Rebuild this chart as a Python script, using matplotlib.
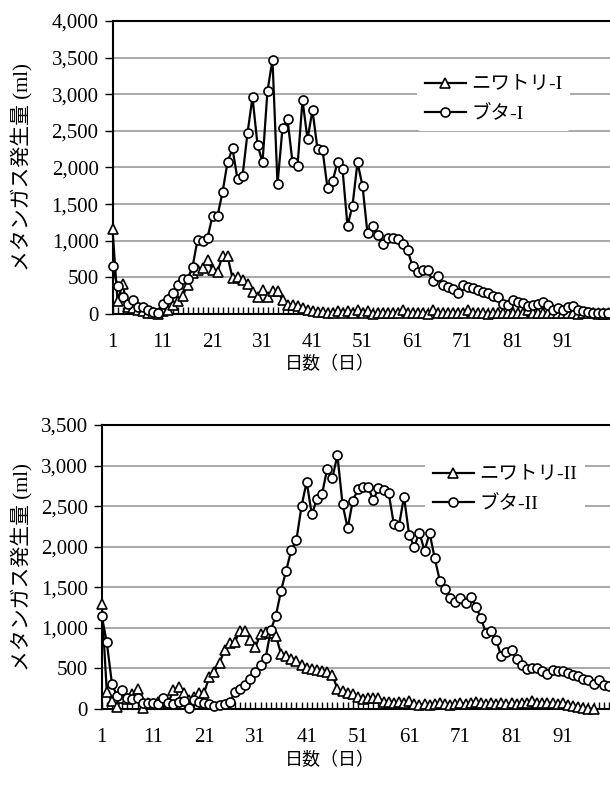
import numpy as np
import matplotlib
matplotlib.use("Agg")
import matplotlib.pyplot as plt
from matplotlib.ticker import FuncFormatter, FixedLocator

plt.rcParams['font.family'] = ['Liberation Serif', 'Noto Sans CJK JP']

days = np.arange(1, 101)
xtick_labels = [1, 11, 21, 31, 41, 51, 61, 71, 81, 91]

chicken_1 = [1160, 180, 410, 100, 80, 60, 36, 20, 10, 0,
             36, 60, 127, 173, 240, 400, 560, 605, 630, 740,
             605, 580, 790, 790, 490, 505, 470, 414, 296, 228,
             332, 228, 310, 310, 196, 127, 127, 105, 82, 60,
             40, 30, 25, 20, 15, 40, 10, 45, 10, 50,
             15, 45, 5, 10, 10, 15, 10, 15, 50, 15,
             10, 10, 10, 5, 50, 15, 15, 10, 15, 10,
             10, 50, 15, 10, 10, 5, 10, 15, 10, 10,
             15, 10, 10, 50, 15, 10, 10, 10, 15, 10,
             15, 10, 10, 5, 10, 10, 10, 5, 5, 5]
pig_1 = [650, 380, 230, 130, 190, 100, 90, 60, 30, 20,
         130, 200, 290, 390, 480, 480, 640, 1010, 1000, 1040,
         1340, 1340, 1660, 2070, 2260, 1840, 1880, 2470, 2960, 2310,
         2070, 3050, 3470, 1770, 2540, 2660, 2070, 2020, 2920, 2390,
         2780, 2250, 2240, 1720, 1810, 2070, 1980, 1200, 1480, 2070,
         1750, 1100, 1200, 1080, 960, 1040, 1040, 1020, 950, 870,
         660, 570, 600, 600, 455, 520, 400, 370, 340, 285,
         400, 370, 355, 323, 300, 287, 250, 228, 140, 127,
         195, 160, 150, 115, 127, 140, 160, 127, 60, 80,
         60, 95, 115, 60, 36, 23, 20, 15, 15, 15]

chicken_2 = [1300, 210, 100, 30, 130, 120, 180, 250, 10, 80,
             60, 90, 60, 80, 230, 270, 200, 110, 150, 200,
             200, 400, 460, 570, 730, 810, 830, 960, 960, 850,
             760, 930, 950, 940, 900, 680, 650, 620, 590, 540,
             500, 490, 480, 470, 460, 420, 250, 220, 200, 180,
             150, 120, 140, 130, 140, 90, 90, 80, 90, 70,
             100, 60, 50, 60, 50, 60, 70, 60, 50, 60,
             70, 60, 70, 90, 70, 60, 70, 60, 70, 60,
             70, 60, 70, 80, 100, 80, 70, 80, 70, 60,
             70, 50, 40, 20, 10, 5, 0]
pig_2 = [1150, 820, 310, 160, 230, 130, 120, 130, 80, 70,
         80, 60, 130, 70, 60, 90, 100, 10, 110, 90,
         70, 60, 40, 50, 60, 90, 205, 250, 290, 370,
         460, 545, 630, 975, 1150, 1460, 1705, 1960, 2083, 2500,
         2800, 2400, 2583, 2650, 2956, 2841, 3128, 2526, 2226, 2567,
         2706, 2731, 2731, 2575, 2718, 2698, 2665, 2280, 2255, 2616,
         2144, 2000, 2173, 1951, 2165, 1857, 1578, 1476, 1365, 1316,
         1365, 1312, 1378, 1263, 1119, 935, 963, 845, 648, 701,
         730, 615, 545, 492, 504, 504, 463, 435, 484, 471,
         463, 443, 422, 410, 369, 361, 312, 353, 300, 279]

labels_1 = ['ニワトリ-I', 'ブタ-I']
labels_2 = ['ニワトリ-II', 'ブタ-II']
ylabel = 'メタンガス発生量 (ml)'
xlabel = '日数（日）'

W, H = 610, 787
fig = plt.figure(figsize=(W / 100, H / 100), dpi=100)


def make_axes(left_px, top_px, bottom_px, xmax, ymax, c_vals, p_vals, labels, leg_xy):
    ax = fig.add_axes([left_px / W, 1 - bottom_px / H, (W - left_px) / W, (bottom_px - top_px) / H])
    ax.plot(days[:len(c_vals)], c_vals, color='black', lw=1.6, marker='^', ms=7,
            mfc='white', mec='black', mew=1.2, label=labels[0], zorder=4, clip_on=False)
    ax.plot(days[:len(p_vals)], p_vals, color='black', lw=1.6, marker='o', ms=6.5,
            mfc='white', mec='black', mew=1.2, label=labels[1], zorder=5, clip_on=False)
    ax.set_xlim(1, xmax)
    ax.set_ylim(0, ymax)
    ax.set_yticks(np.arange(0, ymax + 1, 500))
    ax.yaxis.set_major_formatter(FuncFormatter(lambda v, p: f'{int(v):,}'))
    ax.grid(axis='y', color='#999999', lw=1.2)
    ax.set_axisbelow(True)
    ax.xaxis.set_major_locator(FixedLocator(xtick_labels))
    ax.xaxis.set_minor_locator(FixedLocator(days))
    ax.tick_params(axis='x', which='both', direction='in', length=5, width=1, pad=14, labelsize=15)
    ax.tick_params(axis='y', direction='out', length=6, width=1, pad=4, labelsize=15)
    for s in ['left', 'bottom', 'top']:
        ax.spines[s].set_linewidth(1.5)
        ax.spines[s].set_color('black')
    ax.spines['right'].set_visible(False)
    leg = ax.legend(loc='upper left', bbox_to_anchor=leg_xy, frameon=True, fontsize=14,
                    handlelength=2.1, handletextpad=0.3, labelspacing=0.6,
                    borderpad=0.4, borderaxespad=0)
    leg.get_frame().set_facecolor('white')
    leg.get_frame().set_edgecolor('none')
    leg.get_frame().set_alpha(1)
    return ax


ax1 = make_axes(112.5, 21, 314, 100.5, 4000, chicken_1, pig_1, labels_1,
                ((417 - 112.5) / (W - 112.5), (314 - 68) / 293))
ax2 = make_axes(101.7, 425, 709, 100.2, 3500, chicken_2, pig_2, labels_2,
                ((425 - 101.7) / (W - 101.7), (709 - 458) / 284))

fig.text(22 / W, 1 - 167.5 / H, ylabel, rotation=90, ha='center', va='center', fontsize=15)
fig.text(22 / W, 1 - 567 / H, ylabel, rotation=90, ha='center', va='center', fontsize=15)
fig.text(330 / W, 1 - 364 / H, xlabel, ha='center', va='center', fontsize=13)
fig.text(330 / W, 1 - 760 / H, xlabel, ha='center', va='center', fontsize=13)

fig.savefig('out.png', dpi=100)
